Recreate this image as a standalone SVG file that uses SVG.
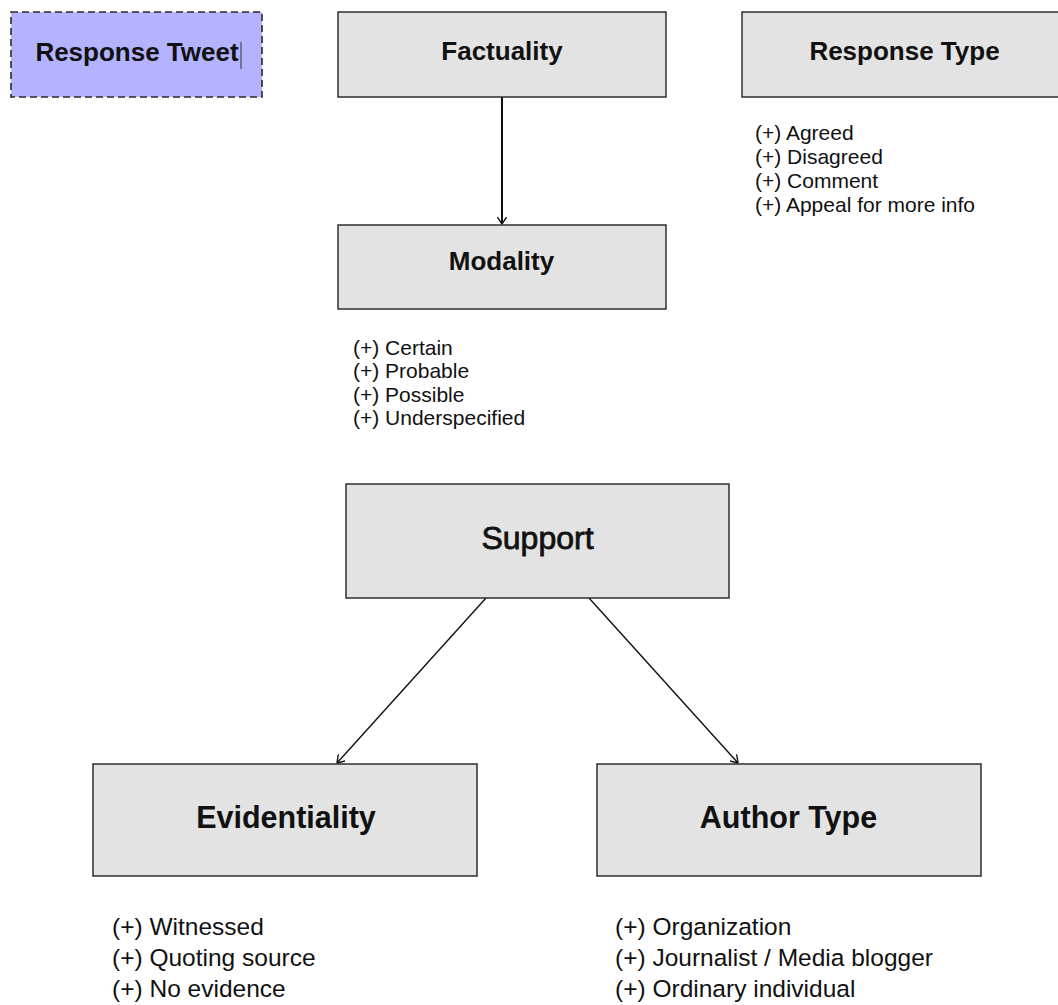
<svg xmlns="http://www.w3.org/2000/svg" width="1058" height="1005" viewBox="0 0 1058 1005">
  <style>
    .box { fill: #e3e3e3; stroke: #222; stroke-width: 1.4; }
    .tweet { fill: #b3b3ff; stroke: #2a2a2a; stroke-width: 1.6; stroke-dasharray: 7 4; }
    .title { font-family: "Liberation Sans", Arial, sans-serif; font-weight: bold; fill: #111; text-anchor: middle; }
    .t1 { font-size: 26px; }
    .t2 { font-size: 30.5px; }
    .t3 { font-size: 32px; font-weight: normal; stroke: #111; stroke-width: 0.8; }
    .list { font-family: "Liberation Sans", Arial, sans-serif; fill: #111; }
    .l1 { font-size: 21px; }
    .l2 { font-size: 24.5px; }
    .edge { stroke: #111; stroke-width: 1.4; fill: none; }
    .edge.thick { stroke-width: 2; }
  </style>
  <defs>
    <marker id="arrow" viewBox="0 0 8 10" refX="7.5" refY="5" markerWidth="8" markerHeight="10" markerUnits="userSpaceOnUse" orient="auto">
      <path d="M0,0 L7.5,5 L0,10" fill="none" stroke="#111" stroke-width="1.4"/>
    </marker>
  </defs>

  <!-- connectors -->
  <g id="connectors">
    <line class="edge thick" x1="502" y1="97" x2="502" y2="224" marker-end="url(#arrow)"/>
    <line class="edge" x1="486" y1="598" x2="337" y2="763" marker-end="url(#arrow)"/>
    <line class="edge" x1="589" y1="598" x2="738" y2="763" marker-end="url(#arrow)"/>
  </g>

  <g id="response-tweet">
    <rect class="tweet" x="11" y="12" width="251" height="85"/>
    <text class="title t1" x="137" y="61">Response Tweet</text>
    <line x1="241" y1="42" x2="241" y2="69" stroke="#333" stroke-width="1"/>
  </g>

  <g id="factuality">
    <rect class="box" x="338" y="12" width="328" height="85"/>
    <text class="title t1" x="502" y="60">Factuality</text>
  </g>

  <g id="response-type">
    <rect class="box" x="742" y="12" width="330" height="85"/>
    <text class="title t1" x="904.5" y="60">Response Type</text>
    <text class="list l1" x="755" y="140">(+) Agreed</text>
    <text class="list l1" x="755" y="164">(+) Disagreed</text>
    <text class="list l1" x="755" y="188">(+) Comment</text>
    <text class="list l1" x="755" y="212">(+) Appeal for more info</text>
  </g>

  <g id="modality">
    <rect class="box" x="338" y="225" width="328" height="84"/>
    <text class="title t1" x="501.5" y="270">Modality</text>
    <text class="list l1" x="353" y="355">(+) Certain</text>
    <text class="list l1" x="353" y="378">(+) Probable</text>
    <text class="list l1" x="353" y="402">(+) Possible</text>
    <text class="list l1" x="353" y="425">(+) Underspecified</text>
  </g>

  <g id="support">
    <rect class="box" x="346" y="484" width="383" height="114"/>
    <text class="title t3" x="537.5" y="549">Support</text>
  </g>

  <g id="evidentiality">
    <rect class="box" x="93" y="764" width="384" height="112"/>
    <text class="title t2" x="286" y="828">Evidentiality</text>
    <text class="list l2" x="112" y="935">(+) Witnessed</text>
    <text class="list l2" x="112" y="966">(+) Quoting source</text>
    <text class="list l2" x="112" y="997">(+) No evidence</text>
  </g>

  <g id="author-type">
    <rect class="box" x="597" y="764" width="384" height="112"/>
    <text class="title t2" x="788.5" y="828">Author Type</text>
    <text class="list l2" x="615" y="935">(+) Organization</text>
    <text class="list l2" x="615" y="966">(+) Journalist / Media blogger</text>
    <text class="list l2" x="615" y="997">(+) Ordinary individual</text>
  </g>
</svg>
